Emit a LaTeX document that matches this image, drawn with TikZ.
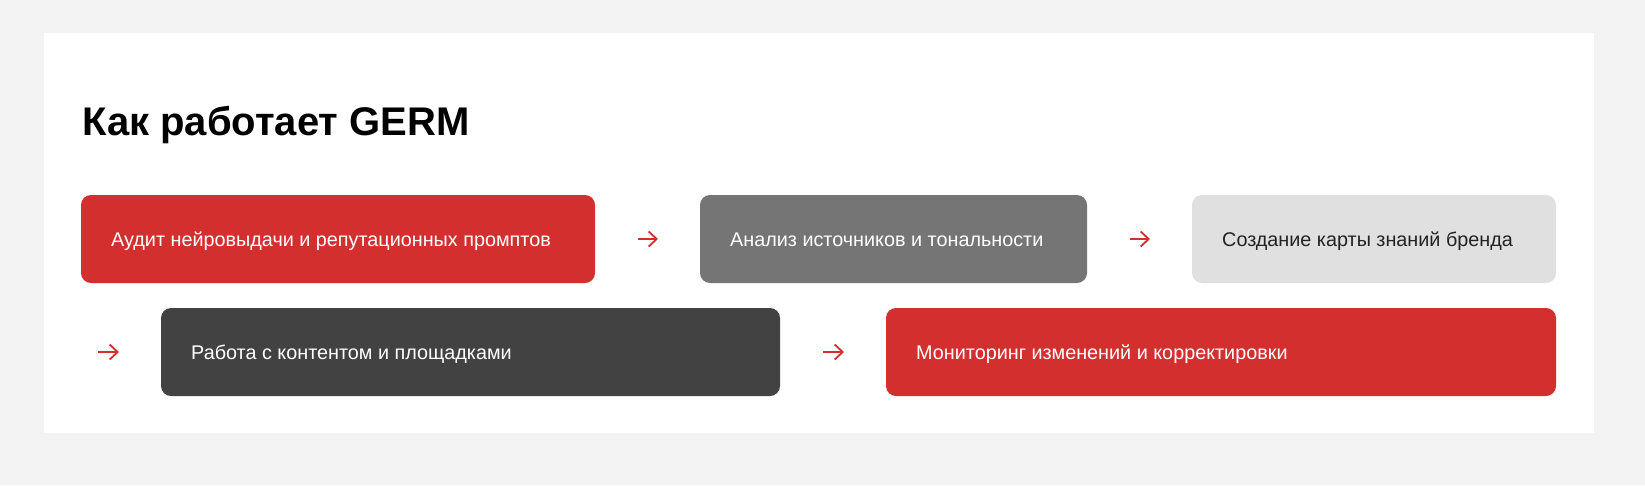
\documentclass[tikz,border=0pt]{standalone}
\usepackage{fontspec}
\setmainfont{Liberation Sans}
\usetikzlibrary{arrows.meta}
\definecolor{germred}{HTML}{D32F2F}
\definecolor{germgray}{HTML}{757575}
\definecolor{germlight}{HTML}{E0E0E0}
\definecolor{germdark}{HTML}{424242}
\definecolor{germpage}{HTML}{F3F3F3}
\definecolor{germink}{HTML}{222222}
\tikzset{
	stepbox/.style={anchor=north west, rounded corners=10pt, minimum height=88pt, inner sep=0pt, outer sep=0pt},
	steptext/.style={anchor=base west, inner sep=0pt, font=\fontsize{19.8}{23}\selectfont},
	flowarrow/.style={draw=germred, line width=1.8pt, -{Straight Barb[length=8pt,width=15pt,line width=1.8pt]}}
}
\begin{document}
\begin{tikzpicture}[x=1pt,y=-1pt]
	\fill[germpage] (0,0) rectangle (1645,485);
	\fill[white] (44,33) rectangle (1594,433);
	\useasboundingbox (0,0) rectangle (1645,485);

	\node[anchor=base west, inner sep=0pt, font=\fontsize{40}{44}\selectfont\bfseries] (title) at (82,135) {Как работает GERM};

	% first row
	\node[stepbox, fill=germred, minimum width=514pt] (audit) at (81,195) {};
	\node[stepbox, fill=germgray, minimum width=387pt] (sources) at (700,195) {};
	\node[stepbox, fill=germlight, minimum width=364pt] (graph) at (1192,195) {};
	\node[steptext, text=white] (audit-text) at ([xshift=30pt,yshift=-7pt]audit.west) {Аудит нейровыдачи и репутационных промптов};
	\node[steptext, text=white] (sources-text) at ([xshift=30pt,yshift=-7pt]sources.west) {Анализ источников и тональности};
	\node[steptext, text=germink] (graph-text) at ([xshift=30pt,yshift=-7pt]graph.west) {Создание карты знаний бренда};
	\draw[flowarrow, shorten <=43pt, shorten >=42pt] (audit) -- (sources);
	\draw[flowarrow, shorten <=43pt, shorten >=42pt] (sources) -- (graph);

	% second row
	\node[stepbox, fill=germdark, minimum width=619pt] (content) at (161,308) {};
	\node[stepbox, fill=germred, minimum width=670pt] (monitor) at (886,308) {};
	\node[steptext, text=white] (content-text) at ([xshift=30pt,yshift=-7pt]content.west) {Работа с контентом и площадками};
	\node[steptext, text=white] (monitor-text) at ([xshift=30pt,yshift=-7pt]monitor.west) {Мониторинг изменений и корректировки};
	\coordinate (wrap) at (98,352);
	\draw[flowarrow, shorten >=42pt] (wrap) -- (content);
	\draw[flowarrow, shorten <=43pt, shorten >=42pt] (content) -- (monitor);
\end{tikzpicture}
\end{document}
